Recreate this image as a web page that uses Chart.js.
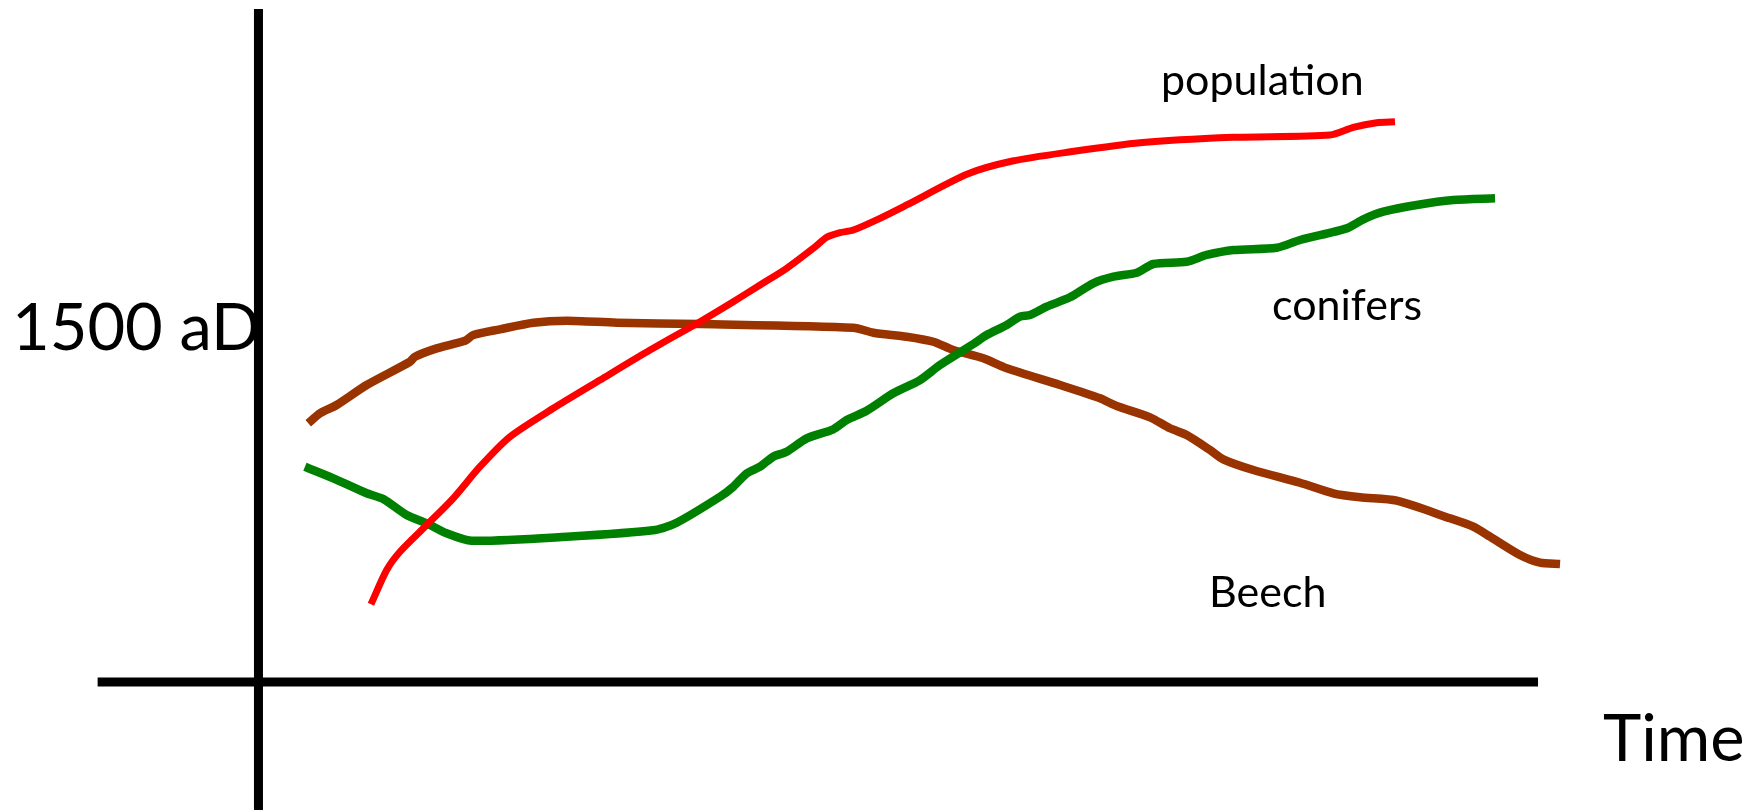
<!DOCTYPE html>
<html>
<head>
<meta charset="utf-8">
<script src="https://cdn.jsdelivr.net/npm/chart.js@4.4.1/dist/chart.umd.min.js"></script>
<style>
  html, body { margin: 0; padding: 0; background: #ffffff; }
  #wrap { width: 1764px; height: 810px; position: relative; }
</style>
</head>
<body>
<div id="wrap"><canvas id="c" width="1764" height="810"></canvas></div>
<script>
// ---- Data (time units on x, relative amount on y) ----
const populationX = [8.79, 10.02, 11.06, 13.15, 15.22, 17.31, 19.66, 23.04, 26.69, 30.60, 34.51, 37.11, 39.20, 41.28, 43.36, 44.41, 45.45, 46.49, 48.57, 50.66, 55.41, 58.93, 63.35, 68.89, 76.19, 83.74, 85.56, 87.39, 88.82];
const populationY = [11.55, 16.64, 19.36, 23.33, 27.30, 31.99, 36.45, 40.67, 44.87, 49.33, 53.54, 56.51, 58.99, 61.47, 64.44, 66.08, 66.76, 67.16, 68.90, 70.88, 75.48, 77.41, 78.75, 80.13, 80.94, 81.28, 82.42, 83.11, 83.25];

const conifersX = [3.63, 5.85, 8.46, 9.75, 11.58, 13.15, 14.71, 16.66, 24.09, 30.99, 32.68, 36.07, 37.11, 38.16, 39.20, 40.23, 41.28, 42.85, 44.92, 45.97, 47.53, 49.61, 51.70, 53.26, 55.87, 56.91, 58.48, 59.52, 60.30, 61.60, 63.42, 65.24, 66.81, 68.64, 69.93, 72.54, 74.11, 76.19, 79.58, 81.40, 85.05, 86.35, 87.91, 90.52, 93.38, 96.64];
const conifersY = [31.99, 30.27, 28.04, 27.19, 24.81, 23.58, 22.10, 21.00, 21.59, 22.59, 23.67, 27.53, 29.02, 31.01, 31.99, 33.48, 34.22, 36.21, 37.55, 38.93, 40.31, 42.90, 44.87, 47.10, 50.22, 51.56, 53.05, 54.28, 54.53, 55.77, 57.16, 59.24, 60.22, 60.82, 62.11, 62.45, 63.45, 64.19, 64.53, 65.68, 67.41, 68.75, 69.88, 70.88, 71.62, 71.87];

const beechX = [3.89, 4.81, 6.11, 8.46, 11.84, 12.23, 13.93, 16.14, 16.79, 18.87, 21.48, 24.09, 28.00, 34.51, 46.49, 48.05, 50.66, 52.74, 54.30, 56.65, 58.48, 62.64, 65.77, 67.07, 69.68, 71.24, 72.54, 74.37, 75.40, 77.75, 81.40, 84.00, 86.09, 88.96, 93.12, 94.94, 96.25, 98.59, 100.16, 101.72];
const beechY = [38.44, 39.93, 41.16, 44.13, 47.59, 48.34, 49.58, 50.71, 51.56, 52.41, 53.39, 53.69, 53.39, 53.19, 52.64, 51.90, 51.31, 50.56, 49.33, 48.10, 46.61, 44.13, 42.15, 41.01, 39.33, 37.70, 36.70, 34.47, 33.09, 31.50, 29.61, 28.04, 27.44, 26.94, 24.32, 23.08, 21.59, 18.87, 17.73, 17.53];

// Axis lines (drawn through the chart's scales)
const timeAxisX = [-12.57, 100];
const timeAxisY = [0, 0];
const valueAxisX = [0, 0];
const valueAxisY = [-20, 100];

const seriesLabels = ["population", "conifers", "Beech"];
const yTickLabel = "1500 aD";
const xAxisTitle = "Time";

function pts(xs, ys) { return xs.map((x, i) => ({ x: x, y: ys[i] })); }

const textPlugin = {
  id: 'texts',
  afterDatasetsDraw(chart) {
    const ctx = chart.ctx;
    ctx.save();
    ctx.fillStyle = '#000000';
    ctx.textBaseline = 'alphabetic';
    ctx.textAlign = 'left';
    ctx.font = '65px Lato';
    ctx.fillText(yTickLabel, 12, 350);
    ctx.fillText(xAxisTitle, 1603, 761);
    ctx.font = '43px Lato';
    ctx.fillText(seriesLabels[0], 1161, 95);
    ctx.fillText(seriesLabels[1], 1272, 320);
    ctx.fillText(seriesLabels[2], 1209, 607);
    ctx.restore();
  }
};

new Chart(document.getElementById('c'), {
  type: 'line',
  data: {
    datasets: [
      { label: 'axisX', data: pts(timeAxisX, timeAxisY), borderColor: '#000000', borderWidth: 9, tension: 0, borderCapStyle: 'butt' },
      { label: 'axisY', data: pts(valueAxisX, valueAxisY), borderColor: '#000000', borderWidth: 9, tension: 0, borderCapStyle: 'butt' },
      { label: seriesLabels[0], data: pts(populationX, populationY), borderColor: '#FF0000', borderWidth: 7, tension: 0.25, borderCapStyle: 'butt', borderJoinStyle: 'round' },
      { label: seriesLabels[1], data: pts(conifersX, conifersY), borderColor: '#008000', borderWidth: 8.5, tension: 0.25, borderCapStyle: 'butt', borderJoinStyle: 'round' },
      { label: seriesLabels[2], data: pts(beechX, beechY), borderColor: '#993300', borderWidth: 8.5, tension: 0.25, borderCapStyle: 'butt', borderJoinStyle: 'round' }
    ]
  },
  options: {
    responsive: false,
    animation: false,
    devicePixelRatio: 1,
    layout: { padding: 0 },
    elements: { point: { radius: 0, hoverRadius: 0 } },
    plugins: { legend: { display: false }, tooltip: { enabled: false } },
    events: [],
    scales: {
      x: { type: 'linear', min: -20.20, max: 117.66, display: false },
      y: { type: 'linear', min: -19.02, max: 101.34, display: false }
    }
  },
  plugins: [textPlugin]
});
</script>
</body>
</html>
